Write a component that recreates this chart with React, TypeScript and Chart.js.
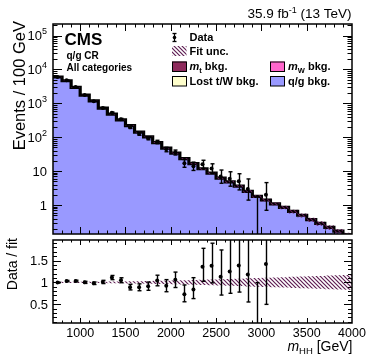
import React, { useEffect, useRef } from 'react';
import { Chart, registerables } from 'chart.js';

Chart.register(...registerables);

// ---------------- data ----------------
const binEdges = [700, 800, 900, 1000, 1100, 1200, 1300, 1400, 1500, 1600, 1700, 1800, 1900, 2000, 2100, 2200, 2300, 2400, 2500, 2600, 2700, 2800, 2900, 3000, 3100, 3200, 3300, 3400, 3500, 3600, 3700, 3800, 3900, 4000];
// total fit (q/g dominated) per 100 GeV bin
const fitTotal = [6000, 4660, 2950, 1760, 1190, 725, 480, 326, 220, 142, 103, 70, 47.6, 34, 23.4, 16.7, 11.8, 8.7, 6.2, 4.8, 3.6, 2.54, 1.81, 1.41, 1.09, 0.85, 0.65, 0.5, 0.37, 0.29, 0.22, 0.17, 0.13];
// relative fit uncertainty per bin
const fitRelUnc = [0.015, 0.014, 0.014, 0.014, 0.015, 0.016, 0.018, 0.02, 0.024, 0.028, 0.032, 0.036, 0.04, 0.045, 0.05, 0.055, 0.06, 0.066, 0.072, 0.078, 0.085, 0.092, 0.1, 0.107, 0.114, 0.12, 0.127, 0.134, 0.141, 0.148, 0.155, 0.162, 0.17];
const dataCenters = [750, 850, 950, 1050, 1150, 1250, 1350, 1450, 1550, 1650, 1750, 1850, 1950, 2050, 2150, 2250, 2350, 2450, 2550, 2650, 2750, 2850, 2950, 3050];
const dataCounts = [5970, 4800, 3040, 1760, 1166, 732, 533, 342, 196, 126, 94, 73, 44, 36, 17, 14, 16, 12, 7, 6, 5, 3, 0, 2];
const dataErrLow = [77, 69, 55, 42, 34, 27, 23, 18.5, 14, 11.2, 9.7, 8.5, 6.6, 6.0, 4.0, 3.5, 3.9, 3.4, 2.6, 2.4, 2.2, 1.6, 0, 1.3];
const dataErrHigh = [77, 69, 55, 42, 34, 27, 23, 18.5, 14, 11.2, 9.7, 8.5, 6.6, 6.0, 5.0, 4.5, 5.0, 4.5, 3.8, 3.6, 3.4, 2.9, 1.8, 2.6];

const xTickValues = [1000, 1500, 2000, 2500, 3000, 3500, 4000];
const xTickLabels = ['1000', '1500', '2000', '2500', '3000', '3500', '4000'];
const logDecades = [0, 1, 2, 3, 4, 5];
const ratioTickValues = [0.5, 1, 1.5];
const ratioTickLabels = ['0.5', '1', '1.5'];

const X_MIN = 700, X_MAX = 4000;
const Y_MIN = 0.14, Y_MAX = 2.2e5;
const R_MIN = 0.07, R_MAX = 1.97;

const FONT = '"Liberation Sans", Arial, Helvetica, sans-serif';
const QG_COLOR = '#9999ff';
const MT_COLOR = '#8e2a5c';
const MW_COLOR = '#ff66cc';
const LOST_COLOR = '#ffffcc';
const HATCH_COLOR = '#5e1d52';

// ---------------- helpers ----------------
function stepPoints(values: number[]) {
  const pts = values.map((v, i) => ({ x: binEdges[i], y: v }));
  pts.push({ x: binEdges[binEdges.length - 1], y: values[values.length - 1] });
  return pts;
}

function binIndexOf(x: number) {
  for (let i = 0; i < binEdges.length - 1; i++) if (x >= binEdges[i] && x < binEdges[i + 1]) return i;
  return binEdges.length - 2;
}

function makeHatch(ctx: CanvasRenderingContext2D, color: string) {
  const c = document.createElement('canvas');
  c.width = 4; c.height = 4;
  const g = c.getContext('2d')!;
  g.strokeStyle = color;
  g.lineWidth = 1.2;
  g.beginPath();
  g.moveTo(0, 0); g.lineTo(4, 4);
  g.moveTo(-2, 2); g.lineTo(2, 6);
  g.moveTo(2, -2); g.lineTo(6, 2);
  g.stroke();
  return ctx.createPattern(c, 'repeat')!;
}

function font(size: number, bold = false, italic = false) {
  return `${italic ? 'italic ' : ''}${bold ? 'bold ' : ''}${size}px ${FONT}`;
}

type Run = { t: string; size: number; bold?: boolean; italic?: boolean; dy?: number };
function runsWidth(ctx: CanvasRenderingContext2D, runs: Run[]) {
  let w = 0;
  for (const r of runs) { ctx.font = font(r.size, r.bold, r.italic); w += ctx.measureText(r.t).width; }
  return w;
}
function drawRuns(ctx: CanvasRenderingContext2D, runs: Run[], x: number, y: number, align: 'left' | 'right' | 'center' = 'left') {
  const w = runsWidth(ctx, runs);
  let cx = align === 'left' ? x : align === 'right' ? x - w : x - w / 2;
  ctx.textAlign = 'left';
  ctx.textBaseline = 'alphabetic';
  ctx.fillStyle = '#000';
  for (const r of runs) {
    ctx.font = font(r.size, r.bold, r.italic);
    ctx.fillText(r.t, cx, y + (r.dy || 0));
    cx += ctx.measureText(r.t).width;
  }
}

function line(ctx: CanvasRenderingContext2D, x1: number, y1: number, x2: number, y2: number) {
  ctx.beginPath(); ctx.moveTo(x1, y1); ctx.lineTo(x2, y2); ctx.stroke();
}

function drawXTicks(ctx: CanvasRenderingContext2D, a: any, xs: any, majorLen: number, minorLen: number) {
  ctx.strokeStyle = '#000';
  ctx.lineWidth = 1;
  for (let v = X_MIN + 100; v < X_MAX; v += 100) {
    const px = Math.round(xs.getPixelForValue(v)) + 0.5;
    const len = v % 500 === 0 ? majorLen : minorLen;
    line(ctx, px, a.bottom, px, a.bottom - len);
    line(ctx, px, a.top, px, a.top + len);
  }
}

function drawFrame(ctx: CanvasRenderingContext2D, a: any) {
  ctx.strokeStyle = '#000';
  ctx.lineWidth = 1.5;
  ctx.strokeRect(a.left, a.top, a.right - a.left, a.bottom - a.top);
}

function drawErrorBars(chart: any, values: number[], lows: number[], highs: number[], isLog: boolean) {
  const { ctx, chartArea: a, scales } = chart;
  const xs = scales.x, ys = scales.y;
  ctx.save();
  ctx.beginPath();
  ctx.rect(a.left, a.top, a.right - a.left, a.bottom - a.top);
  ctx.clip();
  ctx.strokeStyle = '#000';
  ctx.lineWidth = 1.4;
  dataCenters.forEach((c, i) => {
    const px = Math.round(xs.getPixelForValue(c)) + 0.5;
    const v = values[i];
    const hi = v + highs[i];
    const lo = v - lows[i];
    const yTop = ys.getPixelForValue(hi);
    const loValid = isLog ? lo > 0 : true;
    const yBot = loValid ? ys.getPixelForValue(lo) : a.bottom + 10;
    line(ctx, px, yTop, px, yBot);
    line(ctx, px - 2, yTop, px + 2, yTop);
    if (loValid && values[i] > 0) line(ctx, px - 2, yBot, px + 2, yBot);
  });
  ctx.restore();
}

// ---------------- plugins ----------------
function topPlugin(hatch: CanvasPattern) {
  return {
    id: 'topDecor',
    afterDatasetsDraw(chart: any) {
      drawErrorBars(chart, dataCounts, dataErrLow, dataErrHigh, true);
    },
    afterDraw(chart: any) {
      const { ctx, chartArea: a, scales } = chart;
      const xs = scales.x, ys = scales.y;
      ctx.save();
      drawFrame(ctx, a);
      drawXTicks(ctx, a, xs, 7, 3.5);
      // log y ticks
      ctx.lineWidth = 1;
      for (let e = -1; e <= 5; e++) {
        for (let k = 1; k <= 9; k++) {
          const v = k * Math.pow(10, e);
          if (v <= Y_MIN || v >= Y_MAX) continue;
          const py = Math.round(ys.getPixelForValue(v)) + 0.5;
          const len = k === 1 ? 9 : 4.5;
          line(ctx, a.left, py, a.left + len, py);
          line(ctx, a.right, py, a.right - len, py);
        }
      }
      // y labels
      logDecades.forEach((e) => {
        const py = ys.getPixelForValue(Math.pow(10, e));
        const runs: Run[] = e === 0 ? [{ t: '1', size: 13 }] : e === 1 ? [{ t: '10', size: 13 }] : [{ t: '10', size: 13 }, { t: String(e), size: 9, dy: -6 }];
        drawRuns(ctx, runs, 47, py + 4.7, 'right');
      });
      // y title
      ctx.save();
      ctx.translate(24.5, a.top - 3);
      ctx.rotate(-Math.PI / 2);
      drawRuns(ctx, [{ t: 'Events / 100 GeV', size: 16.5 }], 0, 0, 'right');
      ctx.restore();
      // lumi text
      drawRuns(ctx, [{ t: '35.9 fb', size: 13.5 }, { t: '-1', size: 9, dy: -5 }, { t: ' (13 TeV)', size: 13.5 }], 351.5, 17.5, 'right');
      // CMS labels
      drawRuns(ctx, [{ t: 'CMS', size: 17, bold: true }], 64.5, 45.3);
      drawRuns(ctx, [{ t: 'q/g CR', size: 10, bold: true }], 66.5, 58.5);
      drawRuns(ctx, [{ t: 'All categories', size: 10, bold: true }], 66.5, 71.3);
      // legend
      ctx.strokeStyle = '#000';
      ctx.lineWidth = 1.3;
      line(ctx, 174.5, 33.5, 174.5, 41.5);
      line(ctx, 172.5, 33.5, 176.5, 33.5);
      line(ctx, 172.5, 41.5, 176.5, 41.5);
      ctx.fillStyle = '#000';
      ctx.beginPath(); ctx.arc(174.5, 37.5, 1.8, 0, Math.PI * 2); ctx.fill();
      drawRuns(ctx, [{ t: 'Data', size: 11, bold: true }], 189.5, 40.5);
      ctx.fillStyle = hatch;
      ctx.fillRect(172, 46, 14.5, 10);
      drawRuns(ctx, [{ t: 'Fit unc.', size: 11, bold: true }], 189.5, 55.3);
      const swatch = (x: number, y: number, color: string) => {
        ctx.fillStyle = color;
        ctx.fillRect(x, y, 14.5, 10);
        ctx.strokeStyle = '#000';
        ctx.lineWidth = 1;
        ctx.strokeRect(x + 0.5, y + 0.5, 14, 9.5);
      };
      swatch(172, 61.5, MT_COLOR);
      drawRuns(ctx, [{ t: 'm', size: 11, bold: true, italic: true }, { t: 't', size: 7.5, bold: true, dy: 2.5 }, { t: ' bkg.', size: 11, bold: true }], 189.5, 70);
      swatch(270, 61.5, MW_COLOR);
      drawRuns(ctx, [{ t: 'm', size: 11, bold: true, italic: true }, { t: 'W', size: 7.5, bold: true, dy: 2.5 }, { t: ' bkg.', size: 11, bold: true }], 288, 70);
      swatch(172, 76, LOST_COLOR);
      drawRuns(ctx, [{ t: 'Lost t/W bkg.', size: 11, bold: true }], 189.5, 84.6);
      swatch(270, 76, QG_COLOR);
      drawRuns(ctx, [{ t: 'q/g bkg.', size: 11, bold: true }], 288, 84.6);
      ctx.restore();
    },
  };
}

const ratioPlugin = {
  id: 'ratioDecor',
  afterDatasetsDraw(chart: any) {
    const ratioVals = dataCenters.map((c, i) => dataCounts[i] / fitTotal[binIndexOf(c)]);
    const lo = dataCenters.map((c, i) => dataErrLow[i] / fitTotal[binIndexOf(c)]);
    const hi = dataCenters.map((c, i) => dataErrHigh[i] / fitTotal[binIndexOf(c)]);
    drawErrorBars(chart, ratioVals, lo, hi, false);
  },
  afterDraw(chart: any) {
    const { ctx, chartArea: a, scales } = chart;
    const xs = scales.x, ys = scales.y;
    ctx.save();
    drawFrame(ctx, a);
    drawXTicks(ctx, a, xs, 5, 2.5);
    ctx.lineWidth = 1;
    for (let i = 1; i < 20; i++) {
      const v = i / 10;
      if (v <= R_MIN || v >= R_MAX) continue;
      const py = Math.round(ys.getPixelForValue(v)) + 0.5;
      const len = i % 5 === 0 ? 8 : 4;
      line(ctx, a.left, py, a.left + len, py);
      line(ctx, a.right, py, a.right - len, py);
    }
    ratioTickValues.forEach((v, i) => {
      drawRuns(ctx, [{ t: ratioTickLabels[i], size: 13 }], 48, ys.getPixelForValue(v) + 4.7, 'right');
    });
    xTickValues.forEach((v, i) => {
      drawRuns(ctx, [{ t: xTickLabels[i], size: 12.5 }], xs.getPixelForValue(v), 336.5, 'center');
    });
    drawRuns(ctx, [{ t: 'm', size: 14, italic: true }, { t: 'HH', size: 9.5, dy: 3 }, { t: ' [GeV]', size: 14 }], 352.5, 351, 'right');
    ctx.save();
    ctx.translate(17, a.top - 2);
    ctx.rotate(-Math.PI / 2);
    drawRuns(ctx, [{ t: 'Data / fit', size: 14 }], 0, 0, 'right');
    ctx.restore();
    ctx.restore();
  },
};

const transparent = 'rgba(0,0,0,0)';

export default function App() {
  const topRef = useRef<HTMLCanvasElement>(null);
  const botRef = useRef<HTMLCanvasElement>(null);

  useEffect(() => {
    const topCanvas = topRef.current!;
    const botCanvas = botRef.current!;
    const hatchTop = makeHatch(topCanvas.getContext('2d')!, HATCH_COLOR);
    const hatchBot = makeHatch(botCanvas.getContext('2d')!, HATCH_COLOR);

    const topChart = new Chart(topCanvas, {
      type: 'line',
      data: {
        datasets: [
          {
            label: 'q/g bkg.',
            data: stepPoints(fitTotal),
            stepped: 'before',
            fill: 'start',
            backgroundColor: QG_COLOR,
            borderColor: '#000',
            borderWidth: 3.2,
            pointRadius: 0,
            clip: 0,
            order: 3,
          },
          {
            label: 'unc low',
            data: stepPoints(fitTotal.map((v, i) => v * (1 - fitRelUnc[i]))),
            stepped: 'before',
            fill: false,
            borderColor: transparent,
            borderWidth: 1,
            pointRadius: 0,
            clip: 0,
            order: 2,
          },
          {
            label: 'Fit unc.',
            data: stepPoints(fitTotal.map((v, i) => v * (1 + fitRelUnc[i]))),
            stepped: 'before',
            fill: 1,
            backgroundColor: hatchTop,
            borderColor: transparent,
            borderWidth: 1,
            pointRadius: 0,
            clip: 0,
            order: 2,
          },
          {
            label: 'Data',
            data: dataCenters.map((c, i) => ({ x: c, y: dataCounts[i] > 0 ? dataCounts[i] : Y_MIN })),
            showLine: false,
            pointRadius: (ctx: any) => (dataCounts[ctx.dataIndex] > 0 ? 2 : 0),
            pointBackgroundColor: '#000',
            pointBorderColor: '#000',
            pointBorderWidth: 0,
            clip: 0,
            order: 0,
          },
        ] as any,
      },
      options: {
        animation: false,
        responsive: false,
        events: [],
        layout: { padding: { left: 53, top: 24, right: 22, bottom: 125 } },
        plugins: { legend: { display: false }, tooltip: { enabled: false } },
        scales: {
          x: { type: 'linear', min: X_MIN, max: X_MAX, display: false },
          y: { type: 'logarithmic', min: Y_MIN, max: Y_MAX, display: false },
        },
      },
      plugins: [topPlugin(hatchTop)],
    } as any);

    const botChart = new Chart(botCanvas, {
      type: 'line',
      data: {
        datasets: [
          {
            label: 'unc low',
            data: stepPoints(fitRelUnc.map((r) => 1 - r)),
            stepped: 'before',
            fill: false,
            borderColor: transparent,
            borderWidth: 1,
            pointRadius: 0,
            clip: 0,
            order: 2,
          },
          {
            label: 'unc high',
            data: stepPoints(fitRelUnc.map((r) => 1 + r)),
            stepped: 'before',
            fill: 0,
            backgroundColor: hatchBot,
            borderColor: transparent,
            borderWidth: 1,
            pointRadius: 0,
            clip: 0,
            order: 2,
          },
          {
            label: 'Data / fit',
            data: dataCenters.map((c, i) => ({ x: c, y: dataCounts[i] / fitTotal[binIndexOf(c)] })),
            showLine: false,
            pointRadius: (ctx: any) => (dataCounts[ctx.dataIndex] > 0 ? 2 : 0),
            pointBackgroundColor: '#000',
            pointBorderColor: '#000',
            pointBorderWidth: 0,
            clip: 0,
            order: 0,
          },
        ] as any,
      },
      options: {
        animation: false,
        responsive: false,
        events: [],
        layout: { padding: { left: 53, top: 240, right: 22, bottom: 36 } },
        plugins: { legend: { display: false }, tooltip: { enabled: false } },
        scales: {
          x: { type: 'linear', min: X_MIN, max: X_MAX, display: false },
          y: { type: 'linear', min: R_MIN, max: R_MAX, display: false },
        },
      },
      plugins: [ratioPlugin],
    } as any);

    return () => {
      topChart.destroy();
      botChart.destroy();
    };
  }, []);

  return (
    <div style={{ position: 'absolute', left: 0, top: 0, width: 374, height: 359, background: '#fff' }}>
      <canvas ref={topRef} width={374} height={359} style={{ position: 'absolute', left: 0, top: 0 }} />
      <canvas ref={botRef} width={374} height={359} style={{ position: 'absolute', left: 0, top: 0 }} />
    </div>
  );
}
